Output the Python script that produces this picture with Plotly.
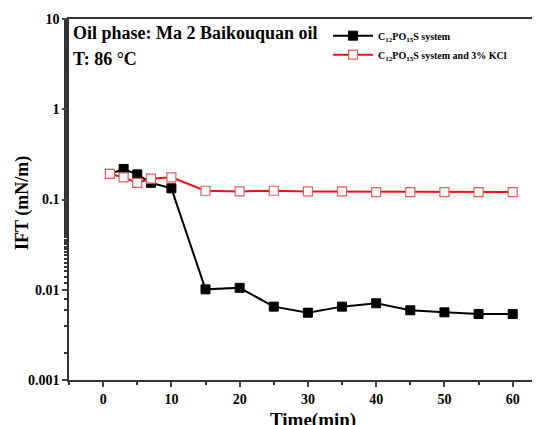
import plotly.graph_objects as go

time_min = [1, 3, 5, 7, 10, 15, 20, 25, 30, 35, 40, 45, 50, 55, 60]
ift_system = [0.192, 0.218, 0.190, 0.153, 0.133, 0.0101, 0.0105, 0.0065, 0.00557,
              0.0065, 0.00708, 0.00592, 0.00562, 0.00538, 0.00538]
ift_kcl = [0.192, 0.176, 0.153, 0.170, 0.176, 0.125, 0.123, 0.125, 0.123,
           0.123, 0.121, 0.121, 0.121, 0.121, 0.121]
x_ticks = [0, 10, 20, 30, 40, 50, 60]
y_ticks = [0.001, 0.01, 0.1, 1, 10]
y_tick_labels = ["0.001", "0.01", "0.1", "1", "10"]

serif = "Liberation Serif, Times New Roman, serif"

fig = go.Figure()
fig.add_trace(go.Scatter(
    x=time_min, y=ift_system, mode="lines+markers",
    name="<b>C<sub>12</sub>PO<sub>15</sub>S system</b>",
    line=dict(color="black", width=2),
    marker=dict(symbol="square", size=9, color="black", line=dict(color="black", width=1)),
))
fig.add_trace(go.Scatter(
    x=time_min, y=ift_kcl, mode="lines+markers",
    name="<b>C<sub>12</sub>PO<sub>15</sub>S system and 3% KCl</b>",
    line=dict(color="#ee1111", width=2),
    marker=dict(symbol="square", size=9, color="white", line=dict(color="#e06060", width=1.2)),
))

fig.add_annotation(x=0.004, y=0.995, xref="paper", yref="paper", xanchor="left", yanchor="top",
                   text="<b>Oil phase: Ma 2 Baikouquan oil</b>", showarrow=False,
                   font=dict(family=serif, size=18, color="black"))
fig.add_annotation(x=0.004, y=0.922, xref="paper", yref="paper", xanchor="left", yanchor="top",
                   text="<b>T: 86 °C</b>", showarrow=False,
                   font=dict(family=serif, size=18, color="black"))
fig.add_annotation(x=0.518, y=-0.076, xref="paper", yref="paper", xanchor="center", yanchor="top",
                   text="<b>Time(min)</b>", showarrow=False,
                   font=dict(family=serif, size=19, color="black"))
fig.add_annotation(x=-0.1, y=0.49, xref="paper", yref="paper", xanchor="center", yanchor="middle",
                   text="<b>IFT (mN/m)</b>", showarrow=False, textangle=-90,
                   font=dict(family=serif, size=18, color="black"))

fig.update_layout(
    width=540, height=425,
    margin=dict(l=61, r=8, t=11, b=53, autoexpand=False),
    paper_bgcolor="white", plot_bgcolor="white",
    font=dict(family=serif, color="black"),
    legend=dict(x=0.55, y=0.994, xanchor="left", yanchor="top",
                bgcolor="rgba(0,0,0,0)", font=dict(family=serif, size=10, color="black"),
                tracegroupgap=0, itemwidth=40),
    showlegend=True,
)
fig.update_xaxes(
    range=[-5, 64], tickvals=x_ticks, ticktext=["<b>%d</b>" % v for v in x_ticks],
    ticks="outside", ticklen=5, tickwidth=1.5, automargin=False,
    showline=True, linecolor="#333", linewidth=1.5, mirror=True, showgrid=False, zeroline=False,
    minor=dict(dtick=5, ticks="outside", ticklen=3, tickcolor="#333"),
    tickfont=dict(family=serif, size=14, color="black"),
)
fig.update_yaxes(
    type="log", range=[-3, 1], tickvals=y_ticks, ticktext=["<b>%s</b>" % t for t in y_tick_labels],
    ticks="outside", ticklen=5, tickwidth=1.5, automargin=False,
    showline=True, linecolor="#333", linewidth=1.5, mirror=False, showgrid=False, zeroline=False,
    minor=dict(ticks="outside", ticklen=3, tickcolor="#333", showgrid=False),
    tickfont=dict(family=serif, size=14, color="black"),
)

fig.write_html("out.html")
